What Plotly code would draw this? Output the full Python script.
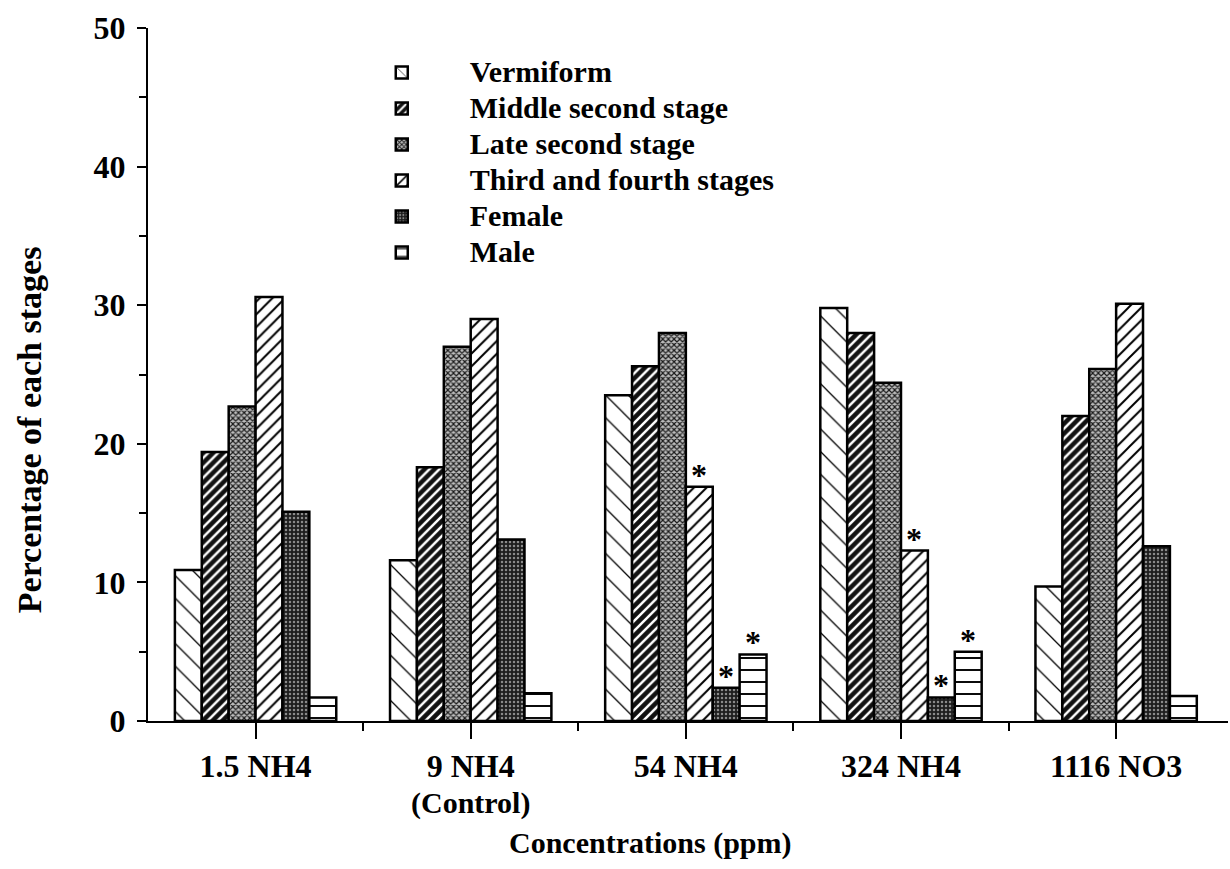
import plotly.graph_objects as go

categories = ["1.5 NH4", "9 NH4", "54 NH4", "324 NH4", "1116 NO3"]
category_notes = {1: "(Control)"}
stages = ["Vermiform", "Middle second stage", "Late second stage",
          "Third and fourth stages", "Female", "Male"]

vermiform = [10.9, 11.6, 23.5, 29.8, 9.7]
middle_second = [19.4, 18.3, 25.6, 28.0, 22.0]
late_second = [22.7, 27.0, 28.0, 24.4, 25.4]
third_fourth = [30.6, 29.0, 16.9, 12.3, 30.1]
female = [15.1, 13.1, 2.4, 1.7, 12.6]
male = [1.7, 2.0, 4.8, 5.0, 1.8]

# significant differences marked with an asterisk: (category index, stage index)
significant = [(2, 3), (2, 4), (2, 5), (3, 3), (3, 4), (3, 5)]

series = [vermiform, middle_second, late_second, third_fourth, female, male]

patterns = [
    dict(shape="\\", fgcolor="black", bgcolor="white", size=16, solidity=0.08, fillmode="replace"),
    dict(shape="/", fgcolor="white", bgcolor="#111111", size=7, solidity=0.35, fillmode="replace"),
    dict(shape="x", fgcolor="#1a1a1a", bgcolor="#bdbdbd", size=4, solidity=0.5, fillmode="replace"),
    dict(shape="/", fgcolor="black", bgcolor="white", size=9, solidity=0.22, fillmode="replace"),
    dict(shape=".", fgcolor="#8a8a8a", bgcolor="#1e1e1e", size=4, solidity=0.3, fillmode="replace"),
    dict(shape="-", fgcolor="black", bgcolor="white", size=12, solidity=0.16, fillmode="replace"),
]

FONT = "Liberation Serif, Times New Roman, serif"
x = list(range(len(categories)))

fig = go.Figure()
for name, vals, pat in zip(stages, series, patterns):
    fig.add_trace(go.Bar(
        x=x, y=vals,
        name='<span style="font-size:30px">%s</span>' % name,
        marker=dict(color="white", pattern=pat, line=dict(color="black", width=2.5)),
    ))

n = len(stages)
group_width = 0.75
bar_w = group_width / n
for ci, si in significant:
    xpos = x[ci] - group_width / 2 + bar_w * (si + 0.5)
    fig.add_annotation(x=xpos, y=series[si][ci], text="*", showarrow=False,
                       yanchor="bottom", yshift=-8,
                       font=dict(family=FONT, size=32, color="black", weight="bold"))

# second line under a category label
for ci, note in category_notes.items():
    fig.add_annotation(x=x[ci], y=-0.118, xref="x", yref="paper", text=note,
                       showarrow=False, xanchor="center", yanchor="middle",
                       font=dict(family=FONT, size=30, color="black", weight="bold"))

# axis titles
fig.add_annotation(x=0.465, y=-0.176, xref="paper", yref="paper",
                   xanchor="center", yanchor="middle",
                   text="Concentrations (ppm)", showarrow=False,
                   font=dict(family=FONT, size=30, color="black", weight="bold"))
fig.add_annotation(x=-0.109, y=0.42, xref="paper", yref="paper", textangle=-90,
                   xanchor="center", yanchor="middle",
                   text="Percentage of each stages", showarrow=False,
                   font=dict(family=FONT, size=34, color="black", weight="bold"))

fig.update_layout(
    barmode="group", bargap=0.25, bargroupgap=0,
    width=1230, height=869,
    margin=dict(l=148, r=2, t=28, b=148, autoexpand=False),
    paper_bgcolor="white", plot_bgcolor="white",
    font=dict(family=FONT, size=28, color="black", weight="bold"),
    legend=dict(x=0.172, y=0.969, xanchor="left", yanchor="top",
                font=dict(family=FONT, size=25.4, color="black", weight="bold"),
                itemwidth=126, tracegroupgap=0, bgcolor="rgba(0,0,0,0)"),
    showlegend=True,
)

fig.update_xaxes(
    range=[-0.5, 4.52], tickvals=x, ticktext=categories,
    ticks="outside", ticklen=16, tickwidth=2, tickcolor="black",
    minor=dict(tickvals=[0.5, 1.5, 2.5, 3.5], ticks="outside", ticklen=8, tickwidth=2, tickcolor="black"),
    showline=True, linecolor="black", linewidth=2, showgrid=False, zeroline=False,
    tickfont=dict(family=FONT, size=32, weight="bold"),
    ticklabelstandoff=0, automargin=False,
)
fig.update_yaxes(
    range=[0, 50], tickvals=[0, 10, 20, 30, 40, 50],
    ticks="outside", ticklen=9, tickwidth=2, tickcolor="black",
    minor=dict(dtick=5, ticks="outside", ticklen=7, tickwidth=2, tickcolor="black"),
    showline=True, linecolor="black", linewidth=2, showgrid=False, zeroline=False,
    tickfont=dict(family=FONT, size=32, weight="bold"),
    ticklabelstandoff=5, automargin=False,
)

fig.write_html("out.html")
